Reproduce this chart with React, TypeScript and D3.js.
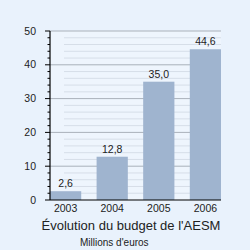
import React from 'react';
import * as d3 from 'd3';

// data
const years = ['2003', '2004', '2005', '2006'];
const budget = [2.6, 12.8, 35.0, 44.6];
const yTicks = [0, 10, 20, 30, 40, 50];
const minorTicks = [2, 4, 6, 8, 12, 14, 16, 18, 22, 24, 26, 28, 32, 34, 36, 38, 42, 44, 46, 48];
const title = "Évolution du budget de l'AESM";
const subtitle = "Millions d'euros";

const App = () => {
    const width = 250, height = 250;
    const left = 50, right = 221, top = 31, bottom = 200;

    const x = d3.scaleBand<string>()
        .domain(years)
        .range([left, right])
        .paddingInner(0.33)
        .paddingOuter(0);

    const y = d3.scaleLinear()
        .domain([0, 50])
        .range([bottom, top]);

    const fmt = (v: number) => v.toFixed(1).replace('.', ',');
    const font = '"Liberation Sans", Arial, sans-serif';

    return (
        <svg width={width} height={height}
             style={{position: 'fixed', top: 0, left: 0, display: 'block'}}
             fontFamily={font}>
            <rect x={0} y={0} width={width} height={height} fill="#e9f2fc"/>
            <rect x={left} y={top} width={right - left} height={bottom - top} fill="#eef5fd"/>

            {/* minor grid */}
            {minorTicks.map(t => (
                <line key={'m' + t} x1={left + 14} x2={right} y1={y(t)} y2={y(t)}
                      stroke="#d6dee8" strokeWidth={1}/>
            ))}
            {/* major grid */}
            {yTicks.filter(t => t > 0).map(t => (
                <line key={'g' + t} x1={left} x2={right} y1={y(t)} y2={y(t)}
                      stroke="#a9b1ba" strokeWidth={1}/>
            ))}

            {/* bars */}
            {years.map((yr, i) => (
                <rect key={yr} x={x(yr)} y={y(budget[i])}
                      width={x.bandwidth()} height={bottom - y(budget[i])}
                      fill="#9fb4cf"/>
            ))}

            {/* value labels */}
            {years.map((yr, i) => (
                <text key={'v' + yr} x={(x(yr) as number) + x.bandwidth() / 2} y={y(budget[i]) - 4}
                      textAnchor="middle" fontSize={10.5} fill="#222">{fmt(budget[i])}</text>
            ))}

            {/* y axis */}
            <line x1={left} x2={left} y1={top} y2={bottom} stroke="#000" strokeWidth={1.2}/>
            {yTicks.map(t => (
                <g key={'t' + t}>
                    <line x1={left - 5} x2={left} y1={y(t)} y2={y(t)} stroke="#000" strokeWidth={1}/>
                    <text x={36} y={y(t)} dy="0.35em" textAnchor="end" fontSize={10.5} fill="#222">{t}</text>
                </g>
            ))}
            {minorTicks.map(t => (
                <line key={'mt' + t} x1={left - 2.5} x2={left} y1={y(t)} y2={y(t)} stroke="#000" strokeWidth={1}/>
            ))}

            {/* x axis */}
            <line x1={left} x2={right} y1={bottom} y2={bottom} stroke="#000" strokeWidth={1.2}/>
            {years.map(yr => (
                <text key={'x' + yr} x={(x(yr) as number) + x.bandwidth() / 2} y={212}
                      textAnchor="middle" fontSize={10.5} fill="#222">{yr}</text>
            ))}

            <text x={131} y={230} textAnchor="middle" fontSize={13} fill="#222">{title}</text>
            <text x={80} y={246} fontSize={10} fill="#222">{subtitle}</text>
        </svg>
    );
};

export default App;
